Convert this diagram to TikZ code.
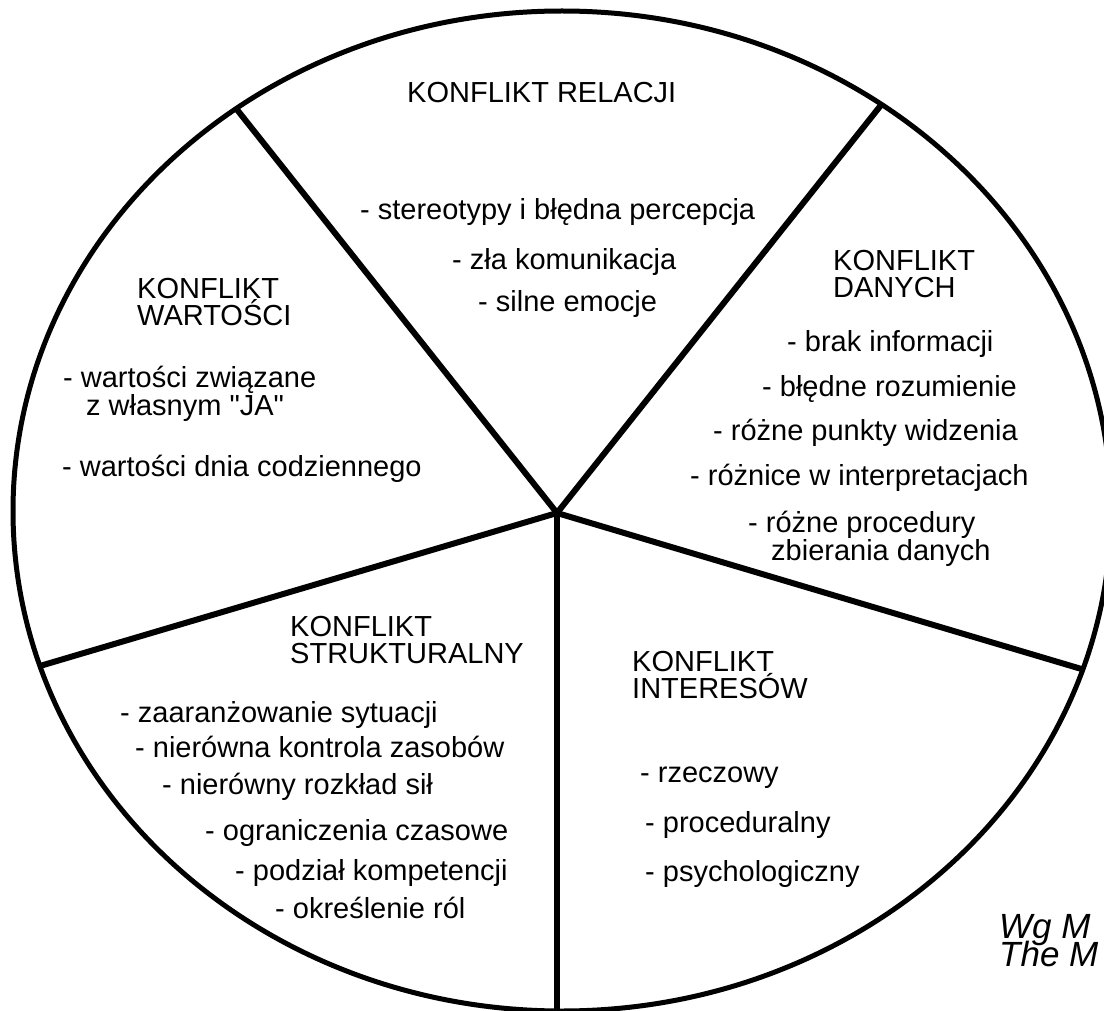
\documentclass[tikz,border=0pt]{standalone}
\usepackage{fontspec}
\setmainfont{Liberation Sans}
\newfontfamily\qfont{Liberation Sans}[Ligatures=Common]
\newcommand\dq{{\qfont\XeTeXglyph\XeTeXcharglyph"22\relax}}
\begin{document}
\begin{tikzpicture}[x=1pt,y=-1pt,
  txt/.style={anchor=base west,inner sep=0pt,font=\fontsize{29}{26}\selectfont},
  cite/.style={anchor=base west,inner sep=0pt,font=\fontsize{35}{26}\selectfont\itshape},
  rim/.style={line width=5pt},
  spoke/.style={line width=6pt}]
\useasboundingbox (0,0) rectangle (1104,1011);
\clip (0,0) rectangle (1104,1011);
% spokes, clipped to the outline
\coordinate (hub) at (557,513);
\coordinate (e1) at (227,97);
\coordinate (e2) at (893,90);
\coordinate (e3) at (1105,676);
\coordinate (e4) at (557,1040);
\coordinate (e5) at (23,671);
\begin{scope}
  \clip (562,511) ellipse [x radius=549, y radius=500];
  \draw[spoke] (hub) -- (e1);
  \draw[spoke] (hub) -- (e2);
  \draw[spoke] (hub) -- (e3);
  \draw[spoke] (hub) -- (e4);
  \draw[spoke] (hub) -- (e5);
\end{scope}
% outline
\draw[rim] (562,511) ellipse [x radius=549, y radius=500];
% relacji
\node[txt] (r0) at (407,103) {KONFLIKT RELACJI};
\node[txt] (r1) at (360,220) {- stereotypy i błędna percepcja};
\node[txt] (r2) at (452,270) {- zła komunikacja};
\node[txt] (r3) at (478,312) {- silne emocje};
% wartosci
\node[txt] (w0) at (137,299) {KONFLIKT};
\node[txt] (w1) at (137,326) {WARTOŚCI};
\node[txt] (w2) at (63,388) {- wartości związane};
\node[txt] (w3) at (86,415) {z własnym \dq JA\dq};
\node[txt] (w4) at (62,476) {- wartości dnia codziennego};
% danych
\node[txt] (d0) at (833,271) {KONFLIKT};
\node[txt] (d1) at (833,298) {DANYCH};
\node[txt] (d2) at (787,352) {- brak informacji};
\node[txt] (d3) at (762,396) {- błędne rozumienie};
\node[txt] (d4) at (713,440) {- różne punkty widzenia};
\node[txt] (d5) at (690,485) {- różnice w interpretacjach};
\node[txt] (d6) at (748,532) {- różne procedury};
\node[txt] (d7) at (771,560) {zbierania danych};
% strukturalny
\node[txt] (s0) at (290,636) {KONFLIKT};
\node[txt] (s1) at (290,663) {STRUKTURALNY};
\node[txt] (s2) at (120,722) {- zaaranżowanie sytuacji};
\node[txt] (s3) at (135,757) {- nierówna kontrola zasobów};
\node[txt] (s4) at (162,794) {- nierówny rozkład sił};
\node[txt] (s5) at (205,840) {- ograniczenia czasowe};
\node[txt] (s6) at (235,880) {- podział kompetencji};
\node[txt] (s7) at (275,918) {- określenie ról};
% interesow
\node[txt] (i0) at (632,671) {KONFLIKT};
\node[txt] (i1) at (632,698) {INTERESÓW};
\node[txt] (i2) at (640,782) {- rzeczowy};
\node[txt] (i3) at (645,832) {- proceduralny};
\node[txt] (i4) at (645,881) {- psychologiczny};
% citation (cut by the right edge, as in the source)
\node[cite] (c0) at (999,938) {Wg M};
\node[cite] (c1) at (999,966) {The M};
\end{tikzpicture}
\end{document}
